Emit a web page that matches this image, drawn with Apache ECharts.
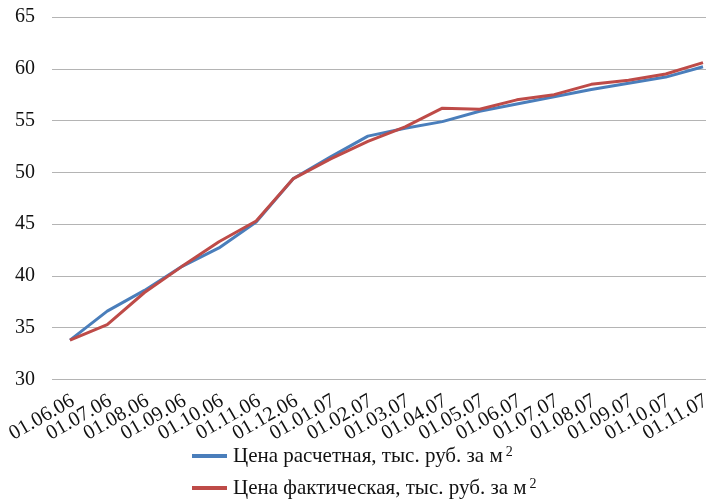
<!DOCTYPE html>
<html>
<head>
<meta charset="utf-8">
<script src="https://cdn.jsdelivr.net/npm/echarts@6/dist/echarts.min.js"></script>
<style>
html,body{margin:0;padding:0;background:#fff;}
#chart{width:714px;height:501px;}
</style>
</head>
<body>
<div id="chart"></div>
<script>
const categories = ['01.06.06','01.07.06','01.08.06','01.09.06','01.10.06','01.11.06','01.12.06','01.01.07','01.02.07','01.03.07','01.04.07','01.05.07','01.06.07','01.07.07','01.08.07','01.09.07','01.10.07','01.11.07'];
const calcPrice = [33.8, 36.6, 38.6, 40.9, 42.7, 45.2, 49.4, 51.5, 53.5, 54.25, 54.9, 55.9, 56.6, 57.3, 58.0, 58.6, 59.2, 60.2];
const factPrice = [33.8, 35.3, 38.4, 40.9, 43.3, 45.3, 49.4, 51.3, 53.0, 54.4, 56.2, 56.1, 57.0, 57.5, 58.5, 58.9, 59.5, 60.6];
const seriesNames = ['Цена расчетная, тыс. руб. за м', 'Цена фактическая, тыс. руб. за м'];
const yMin = 30, yMax = 65, yStep = 5;

const FONT = 'Liberation Serif';
const chart = echarts.init(document.getElementById('chart'), null, {renderer: 'canvas'});
const gTop = 17, gBottom = 121.5;
const seriesColors = ['#4a7ebb', '#be4b48'];
function makeLegend(i, topPos) {
  return {
    orient: 'vertical', left: 187, top: topPos, itemWidth: 35, itemHeight: 4,
    icon: 'rect', selectedMode: false,
    data: [seriesNames[i]],
    formatter: function (n) { return '{a|' + n + '}{sup|2}'; },
    textStyle: {
      fontFamily: FONT, fontSize: 21, color: '#111',
      rich: {
        a: {fontFamily: FONT, fontSize: 21, color: '#111', lineHeight: 22, padding: [0, 0, 0, 1]},
        sup: {fontFamily: FONT, fontSize: 14, color: '#111', lineHeight: 22, verticalAlign: 'top', padding: [0, 0, 0, 3]}
      }
    }
  };
}
chart.setOption({
  animation: false,
  backgroundColor: '#ffffff',
  grid: [
    {left: 70, right: 11, top: gTop, bottom: gBottom},
    {left: 52, right: 8, top: gTop, bottom: gBottom},
    {left: 73, right: 8, top: gTop, bottom: gBottom}
  ],
  xAxis: [
    {gridIndex: 0, type: 'category', data: categories, boundaryGap: false, show: false},
    {gridIndex: 1, type: 'value', show: false, min: 0, max: 1},
    {gridIndex: 2, type: 'category', data: categories, boundaryGap: false,
     axisLine: {show: false}, axisTick: {show: false}, splitLine: {show: false},
     axisLabel: {interval: 0, rotate: 30, margin: 20, fontFamily: FONT, fontSize: 20.5, color: '#111'}}
  ],
  yAxis: [
    {gridIndex: 0, type: 'value', min: yMin, max: yMax, interval: yStep, show: false},
    {gridIndex: 1, type: 'value', min: yMin, max: yMax, interval: yStep,
     axisLine: {show: false}, axisTick: {show: false},
     splitLine: {show: true, lineStyle: {color: '#b4b4b4', width: 1}},
     axisLabel: {margin: 17, fontFamily: FONT, fontSize: 20, color: '#111'}},
    {gridIndex: 2, type: 'value', min: yMin, max: yMax, interval: yStep, show: false}
  ],
  legend: [makeLegend(0, 440), makeLegend(1, 472)],
  series: [
    {name: seriesNames[0], type: 'line', xAxisIndex: 0, yAxisIndex: 0, data: calcPrice,
     symbol: 'none', lineStyle: {color: seriesColors[0], width: 3}, itemStyle: {color: seriesColors[0]}, z: 3},
    {name: seriesNames[1], type: 'line', xAxisIndex: 0, yAxisIndex: 0, data: factPrice,
     symbol: 'none', lineStyle: {color: seriesColors[1], width: 3}, itemStyle: {color: seriesColors[1]}, z: 4}
  ]
});
</script>
</body>
</html>
